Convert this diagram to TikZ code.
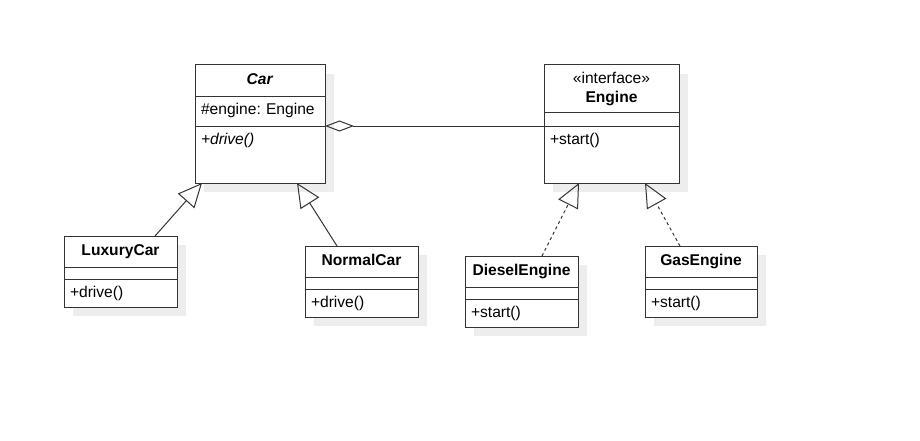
\documentclass[tikz,border=0pt]{standalone}
\usepackage{fontspec}
\setmainfont{Liberation Sans}
\frenchspacing
\usetikzlibrary{positioning,arrows.meta,shadows}
\definecolor{umlline}{HTML}{333333}
\definecolor{umlshadow}{HTML}{EDEDED}
\tikzset{
	box/.style = {draw = umlline, line width = 1pt, fill = white, outer sep = 0pt, inner sep = 0pt,
		font = \fontsize{15.6}{19}\selectfont,
		drop shadow = {shadow xshift = 9pt, shadow yshift = -9pt, fill = umlshadow, opacity = 1}},
	head/.style = {box, align = center, anchor = north west},
	title/.style = {head, text height = 11pt, text depth = 3pt},
	part/.style = {box, inner xsep = 6pt, text width = #1, align = left, text height = 18pt, text depth = 10pt},
	gap/.style = {box, text width = #1, text height = 12pt, text depth = 0pt},
	gen/.style = {draw = umlline, line width = 1pt, -{Triangle[open, length = 24pt, width = 22pt]}},
	impl/.style = {gen, dash pattern = on 3pt off 3pt},
	aggr/.style = {draw = umlline, line width = 1pt, {Diamond[open, length = 29pt, width = 11pt]}-}
}
\begin{document}
\begin{tikzpicture}[x = 1pt, y = -1pt]%Car / Engine
	\useasboundingbox (0,0) rectangle (920,441);
	% Car
	\node[title, minimum width = 130pt, minimum height = 32pt] (car) at (195,65) {\textbf{\textit{Car}}};
	\node[part = 118pt, text depth = 11pt, below = 0pt of car] (car-attr) {\#engine: Engine};
	\node[part = 118pt, text depth = 39pt, below = 0pt of car-attr] (car-ops) {\textit{+drive()}};
	% Engine
	\node[head, minimum width = 135pt, minimum height = 48pt] (engine) at (544,65) {«interface»\\\textbf{Engine}};
	\node[gap = 135pt, text height = 13pt, below = 0pt of engine] (engine-gap) {};
	\node[part = 123pt, text depth = 39pt, below = 0pt of engine-gap] (engine-ops) {+start()};
	% LuxuryCar
	\node[title, minimum width = 113pt, minimum height = 31pt] (lux) at (64,236) {\textbf{LuxuryCar}};
	\node[gap = 113pt, below = 0pt of lux] (lux-gap) {};
	\node[part = 101pt, below = 0pt of lux-gap] (lux-ops) {+drive()};
	% NormalCar
	\node[title, minimum width = 113pt, minimum height = 31pt] (normal) at (305,246) {\textbf{NormalCar}};
	\node[gap = 113pt, below = 0pt of normal] (normal-gap) {};
	\node[part = 101pt, below = 0pt of normal-gap] (normal-ops) {+drive()};
	% DieselEngine
	\node[title, minimum width = 113pt, minimum height = 31pt] (diesel) at (465,256) {\textbf{DieselEngine}};
	\node[gap = 113pt, below = 0pt of diesel] (diesel-gap) {};
	\node[part = 101pt, below = 0pt of diesel-gap] (diesel-ops) {+start()};
	% GasEngine
	\node[title, minimum width = 112pt, minimum height = 31pt] (gas) at (645,246) {\textbf{GasEngine}};
	\node[gap = 112pt, below = 0pt of gas] (gas-gap) {};
	\node[part = 100pt, below = 0pt of gas-gap] (gas-ops) {+start()};
	% relations
	\draw[aggr] (car-attr.south east) -- (engine-gap.south west);
	\draw[gen] ([xshift = 34.5pt]lux.north) -- ([xshift = -58pt]car-ops.south);
	\draw[gen] ([xshift = -24.5pt]normal.north) -- ([xshift = 37pt]car-ops.south);
	\draw[impl] ([xshift = 20.5pt]diesel.north) -- ([xshift = -32.5pt]engine-ops.south);
	\draw[impl] ([xshift = -21pt]gas.north) -- ([xshift = 33.5pt]engine-ops.south);
\end{tikzpicture}
\end{document}
